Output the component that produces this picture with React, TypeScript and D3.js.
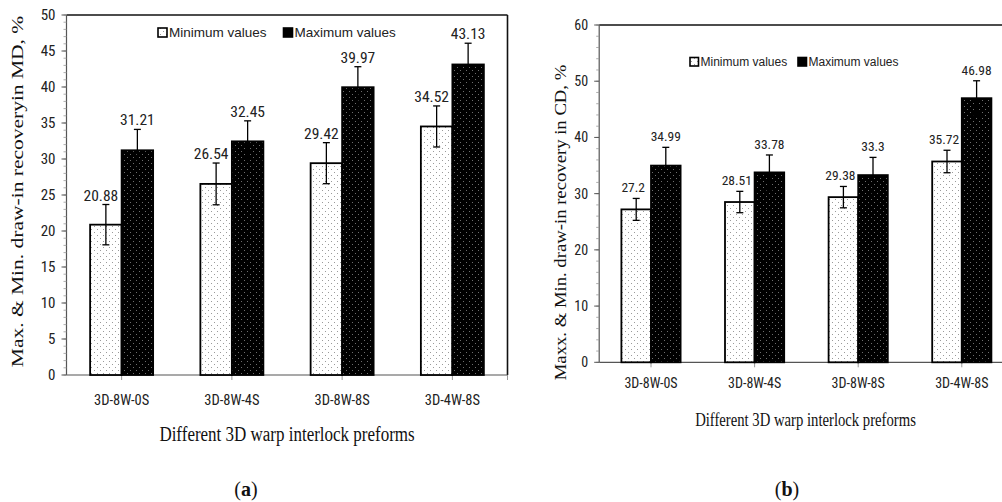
import React from 'react';
import * as d3 from 'd3';

const categories = ['3D-8W-0S', '3D-8W-4S', '3D-8W-8S', '3D-4W-8S'];
const seriesNames = ['Minimum values', 'Maximum values'];

// (a) machine direction
const mdMin = [20.88, 26.54, 29.42, 34.52];
const mdMax = [31.21, 32.45, 39.97, 43.13];
const mdMinErr = [2.8, 2.9, 2.85, 2.85];
const mdMaxErr = [2.9, 2.85, 2.85, 2.95];
const mdTicks = [0, 5, 10, 15, 20, 25, 30, 35, 40, 45, 50];

// (b) cross direction
const cdMin = [27.2, 28.51, 29.38, 35.72];
const cdMax = [34.99, 33.78, 33.3, 46.98];
const cdMinErr = [1.95, 1.9, 1.9, 2.0];
const cdMaxErr = [3.25, 3.1, 3.15, 3.1];
const cdTicks = [0, 10, 20, 30, 40, 50, 60];

const NARROW = "'Liberation Sans Narrow', 'Roboto Condensed', 'Liberation Sans', sans-serif";
const SANS = "'Liberation Sans', Arial, sans-serif";
const SERIF = "'Liberation Serif', 'Times New Roman', serif";

interface PanelCfg {
  id: string;
  x: [number, number];
  y: [number, number];
  max: number;
  ticks: number[];
  minorStep: number;
  mins: number[];
  maxs: number[];
  minErr: number[];
  maxErr: number[];
  tickFont: number;
  catFont: number;
  catY: number;
  valFont: number;
  valGap: number;
  minShift: number;
  legend: { x1: number; x2: number; y: number; box: number; font: number };
  title: string;
  titleX: number;
  titleY: number;
  titleFont: number;
  titleSy: number;
  xTitleX: number;
  xTitleY: number;
  xTitleFont: number;
  xTitleSy: number;
}

const Panel: React.FC<{ c: PanelCfg }> = ({ c }) => {
  const x0 = d3.scaleBand<string>().domain(categories).range(c.x);
  const x1 = d3.scaleBand<string>().domain(seriesNames).range([0, x0.bandwidth()]).paddingOuter(0.75);
  const y = d3.scaleLinear().domain([0, c.max]).range(c.y);
  const bw = x1.bandwidth();
  const minor = d3.range(0, c.max + 0.001, c.minorStep);
  const groups = [
    { name: seriesNames[0], vals: c.mins, errs: c.minErr, fill: `url(#${c.id}-lite)`, shift: c.minShift },
    { name: seriesNames[1], vals: c.maxs, errs: c.maxErr, fill: `url(#${c.id}-dark)`, shift: 0 },
  ];
  return (
    <g>
      <defs>
        <pattern id={`${c.id}-lite`} width={6} height={6} patternUnits="userSpaceOnUse">
          <rect width={6} height={6} fill="#fff" />
          <rect x={1} y={1} width={1} height={1} fill="#9a9a9a" />
          <rect x={4} y={4} width={1} height={1} fill="#9a9a9a" />
        </pattern>
        <pattern id={`${c.id}-dark`} width={6} height={6} patternUnits="userSpaceOnUse">
          <rect width={6} height={6} fill="#000" />
          <rect x={1} y={1} width={1} height={1} fill="#6e6e6e" />
          <rect x={4} y={4} width={1} height={1} fill="#6e6e6e" />
        </pattern>
      </defs>
      {/* frame */}
      <line x1={c.x[0]} x2={c.x[1]} y1={c.y[1]} y2={c.y[1]} stroke="#111" strokeWidth={1.6} />
      <line x1={c.x[1]} x2={c.x[1]} y1={c.y[1]} y2={c.y[0]} stroke="#111" strokeWidth={1.6} />
      <line x1={c.x[0]} x2={c.x[0]} y1={c.y[1]} y2={c.y[0]} stroke="#555" strokeWidth={1.2} />
      <line x1={c.x[0]} x2={c.x[1]} y1={c.y[0]} y2={c.y[0]} stroke="#555" strokeWidth={1.2} />
      {minor.map(v => (
        <line key={`m${v}`} x1={c.x[0] - 3} x2={c.x[0]} y1={y(v)} y2={y(v)} stroke="#999" strokeWidth={0.8} />
      ))}
      {c.ticks.map(v => (
        <g key={`t${v}`}>
          <line x1={c.x[0] - 5} x2={c.x[0]} y1={y(v)} y2={y(v)} stroke="#555" strokeWidth={1} />
          <text x={c.x[0] - 11} y={y(v) + c.tickFont * 0.35} textAnchor="end" fontFamily={NARROW} fontSize={c.tickFont} fill="#222">
            {v}
          </text>
        </g>
      ))}
      {categories.map(cat => {
        const cx = (x0(cat) as number) + x0.bandwidth() / 2;
        return (
          <g key={cat}>
            <line x1={cx} x2={cx} y1={c.y[0]} y2={c.y[0] + 5} stroke="#999" strokeWidth={1} />
            <text x={cx} y={c.catY} textAnchor="middle" fontFamily={NARROW} fontSize={c.catFont} fill="#222">
              {cat}
            </text>
          </g>
        );
      })}
      <line x1={c.x[1]} x2={c.x[1]} y1={c.y[0]} y2={c.y[0] + 5} stroke="#999" strokeWidth={1} />
      {groups.map(g =>
        categories.map((cat, i) => {
          const bx = (x0(cat) as number) + (x1(g.name) as number);
          const v = g.vals[i];
          const e = g.errs[i];
          const mx = bx + bw / 2;
          return (
            <g key={g.name + cat}>
              <rect x={bx} y={y(v)} width={bw} height={y(0) - y(v)} fill={g.fill} stroke="#000" strokeWidth={1.8} />
              <line x1={mx} x2={mx} y1={y(v + e)} y2={y(v - e)} stroke="#000" strokeWidth={1.3} />
              <line x1={mx - 3.5} x2={mx + 3.5} y1={y(v + e)} y2={y(v + e)} stroke="#000" strokeWidth={1.3} />
              <line x1={mx - 3.5} x2={mx + 3.5} y1={y(v - e)} y2={y(v - e)} stroke="#000" strokeWidth={1.3} />
              <text x={mx + g.shift} y={y(v + e) - c.valGap} textAnchor="middle" fontFamily={NARROW} fontSize={c.valFont} fill="#222">
                {v}
              </text>
            </g>
          );
        })
      )}
      {/* legend */}
      {seriesNames.map((s, i) => {
        const lx = i === 0 ? c.legend.x1 : c.legend.x2;
        return (
          <g key={s}>
            <rect x={lx} y={c.legend.y - c.legend.box} width={c.legend.box} height={c.legend.box}
              fill={i === 0 ? `url(#${c.id}-lite)` : '#000'} stroke="#000" strokeWidth={1.6} />
            <text x={lx + c.legend.box + 2} y={c.legend.y} fontFamily={SANS} fontSize={c.legend.font} fill="#222">
              {s}
            </text>
          </g>
        );
      })}
      <text transform={`translate(${c.titleX},${c.titleY}) rotate(-90) scale(1,${c.titleSy})`} textAnchor="middle"
        fontFamily={SERIF} fontSize={c.titleFont} fill="#111">
        {c.title}
      </text>
      <text transform={`translate(${c.xTitleX},${c.xTitleY}) scale(1,${c.xTitleSy})`} textAnchor="middle"
        fontFamily={SERIF} fontSize={c.xTitleFont} fill="#111">
        Different 3D warp interlock preforms
      </text>
    </g>
  );
};

const left: PanelCfg = {
  id: 'md', x: [66.5, 507.5], y: [375, 15], max: 50, ticks: mdTicks, minorStep: 1,
  mins: mdMin, maxs: mdMax, minErr: mdMinErr, maxErr: mdMaxErr,
  tickFont: 15, catFont: 14.5, catY: 405, valFont: 15.5, valGap: 4, minShift: -5,
  legend: { x1: 158, x2: 283.5, y: 37, box: 9, font: 13.5 },
  title: 'Max. & Min. draw-in recoveryin MD, %', titleX: 23, titleY: 191.5, titleFont: 21.5, titleSy: 0.78,
  xTitleX: 287, xTitleY: 440.5, xTitleFont: 17, xTitleSy: 1.24,
};

const right: PanelCfg = {
  id: 'cd', x: [599.2, 1013.6], y: [362.3, 25], max: 60, ticks: cdTicks, minorStep: 2,
  mins: cdMin, maxs: cdMax, minErr: cdMinErr, maxErr: cdMaxErr,
  tickFont: 14, catFont: 14, catY: 388, valFont: 13.5, valGap: 6, minShift: -3,
  legend: { x1: 690, x2: 798, y: 66, box: 8.5, font: 12 },
  title: 'Maxx. & Min. draw-in recovery in CD, %', titleX: 565.5, titleY: 222.5, titleFont: 18.7, titleSy: 0.92,
  xTitleX: 805.5, xTitleY: 426, xTitleFont: 14.7, xTitleSy: 1.3,
};

const App: React.FC = () => (
  <svg width={1002} height={502} style={{ position: 'absolute', left: 0, top: 0, background: '#fff' }}>
    <rect width={1002} height={502} fill="#fff" />
    <Panel c={left} />
    <Panel c={right} />
    <text x={246} y={496} textAnchor="middle" fontFamily={SERIF} fontSize={20} fill="#111">
      (<tspan fontWeight="bold">a</tspan>)
    </text>
    <text x={787} y={496} textAnchor="middle" fontFamily={SERIF} fontSize={20} fill="#111">
      (<tspan fontWeight="bold">b</tspan>)
    </text>
  </svg>
);

export default App;
